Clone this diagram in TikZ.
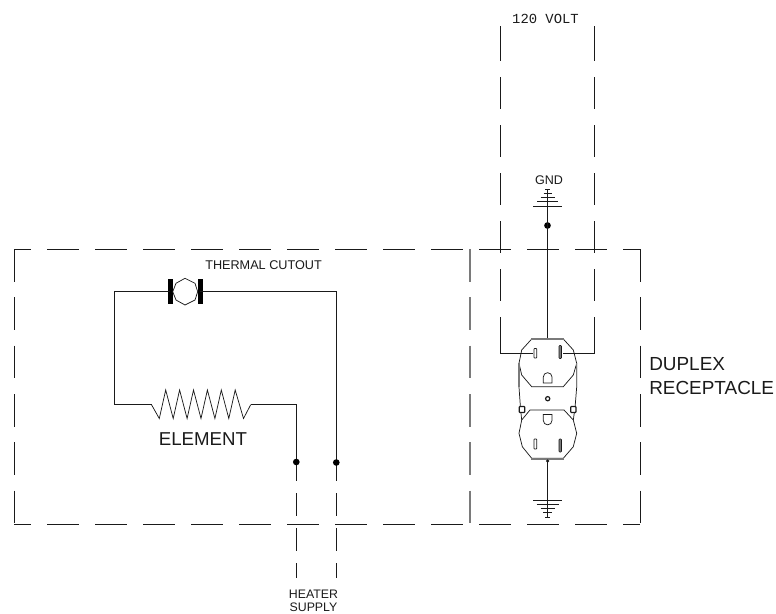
\documentclass[tikz,border=0pt]{standalone}
\usepackage{fontspec}
\setmainfont{Liberation Sans}
\newfontfamily\cadfont{Liberation Mono}
\definecolor{ink}{HTML}{1A1A1A}
\definecolor{midgrey}{HTML}{7A7A7A}
\tikzset{
  wire/.style={draw=ink,line width=0.7pt,line join=miter},
  thinwire/.style={draw=ink,line width=0.55pt,line join=miter},
  dashh/.style={draw=ink,line width=0.7pt,dash pattern=on 24pt off 12pt,dash phase=11.25pt},
  dashv/.style={draw=ink,line width=0.7pt,dash pattern=on 24.4pt off 11.85pt},
  divider/.style={draw=midgrey,line width=1.1pt,dash pattern=on 24.4pt off 11.85pt},
  feed/.style={draw=ink,line width=0.7pt,dash pattern=on 26.25pt off 12pt on 24pt off 12pt on 24pt off 12pt on 24pt off 12pt on 24pt off 12pt on 24pt off 12pt on 80pt off 12pt},
  supply/.style={draw=ink,line width=0.7pt,dash pattern=on 17.25pt off 9pt},
  junction/.style={circle,fill=black,inner sep=0pt,minimum size=5pt},
  blade/.style={fill=black,draw=none},
  thickbar/.style={draw=midgrey,line width=1.5pt},
  slotthin/.style={draw=ink,line width=0.55pt,rounded corners=0.5pt},
  slotfat/.style={draw=ink,fill=midgrey,line width=0.4pt,rounded corners=0.5pt},
  lab/.style={inner sep=0pt,text=ink}
}
\begin{document}
\begin{tikzpicture}[x=0.75pt,y=-0.75pt]
\useasboundingbox (0,0) rectangle (776,614);
% named points
\coordinate (boxTL) at (14,249);
\coordinate (boxTR) at (640,249);
\coordinate (boxBL) at (14,524);
\coordinate (boxBR) at (640,524);
\coordinate (divT) at (470,249);
\coordinate (divB) at (470,524);
\coordinate (feedLtop) at (500.5,26);
\coordinate (feedLbend) at (500.5,353);
\coordinate (feedLend) at (533,353);
\coordinate (feedRtop) at (594.5,26);
\coordinate (feedRbend) at (594.5,353);
\coordinate (feedRend) at (563,353);
\coordinate (gndTopEnd) at (547.5,189);
\coordinate (recTop) at (547.5,338);
\coordinate (recBot) at (547.5,460);
\coordinate (gndBotEnd) at (547.5,517);
\coordinate (cutL) at (170,291.5);
\coordinate (cutR) at (200,291.5);
\coordinate (loopTL) at (114,291.5);
\coordinate (loopBL) at (114,404.7);
\coordinate (resL) at (151.5,404.7);
\coordinate (resR) at (250.7,404.7);
\coordinate (h1bend) at (296.3,404.7);
\coordinate (h1solid) at (296.3,481);
\coordinate (h1dash) at (296.3,493);
\coordinate (h1end) at (296.3,578);
\coordinate (h2bend) at (336.3,291.5);
\coordinate (h2solid) at (336.3,481);
\coordinate (h2dash) at (336.3,493);
\coordinate (h2end) at (336.3,578);

% dashed enclosures
\draw[dashh] (boxTL) -- (boxTR);
\draw[dashh] (boxBL) -- (boxBR);
\draw[dashv] (boxTL) -- (boxBL);
\draw[dashv] (boxTR) -- (boxBR);
\draw[divider] (divT) -- (divB);

% 120 V feeders
\draw[feed] (feedLtop) -- (feedLbend) -- (feedLend);
\draw[feed] (feedRtop) -- (feedRbend) -- (feedRend);

% ground wires and dot
\node[junction] (dotG) at (547.5,225.5) {};
\draw[wire] (gndTopEnd) -- (recTop);
\draw[wire] (recBot) -- (gndBotEnd);

% ground symbols
\foreach \yy/\hw in {206.3/14.5,201.5/10.5,197/7,193/4,189/2.5}
  \draw[thinwire] (547.5-\hw,\yy) -- (547.5+\hw,\yy);
\foreach \yy/\hw in {500.3/14.5,504.3/11,508.3/7,512.5/4.5,517/2.5}
  \draw[thinwire] (547.5-\hw,\yy) -- (547.5+\hw,\yy);

% receptacle: faces
\draw[thinwire] (531.7,339) -- (521.7,350) -- (519,363.3) -- (521.7,375) -- (531.7,386.7) -- (563.3,386.7) -- (573.3,375) -- (576.7,363.3) -- (573.3,350) -- (563.3,339);
\draw[thickbar] (531,338.5) -- (564,338.5);
\draw[thinwire] (530,410) -- (521.7,420) -- (519,433.3) -- (522.3,446.7) -- (531.7,458.3) -- (563.3,458.3) -- (573.3,446.7) -- (576.7,433.3) -- (573.3,420) -- (564,410) -- cycle;
\draw[thickbar] (531,458.5) -- (564,458.5);
% receptacle: outer strap
\draw[thinwire] (519,363.3) -- (519,387) -- (520.5,408) -- (521.7,420);
\draw[thinwire] (576.7,363.3) -- (576.7,387) -- (575,408) -- (573.3,420);
\draw[draw=midgrey,line width=0.9pt] (519,363.3) -- (519,387);
\draw[draw=midgrey,line width=0.9pt] (576.7,363.3) -- (576.7,387);
% tabs and screw
\draw[draw=ink,fill=white,line width=0.9pt,rounded corners=0.5pt] (519.3,406.5) rectangle (524.7,412.5);
\draw[draw=ink,fill=white,line width=0.9pt,rounded corners=0.5pt] (570.7,406.5) rectangle (576,412.5);
\draw[draw=ink,line width=0.9pt] (547.7,398.7) circle (2.1);
\draw[thinwire] (547.7,461) circle (1.2);
% slots
\draw[slotthin] (534,348.5) rectangle (536.7,358);
\draw[slotfat] (559,345.5) rectangle (561.5,358.5);
\draw[slotthin] (534,439) rectangle (536.7,449);
\draw[slotfat] (559,439) rectangle (561.5,452);
% ground holes
\draw[thinwire] (543.3,383) -- (552,383) -- (552,377) arc (0:-180:4.35) -- cycle;
\draw[thinwire] (543.3,414.5) -- (552,414.5) -- (552,420.5) arc (0:180:4.35) -- cycle;

% thermal cutout
\fill[blade] (167.7,279) rectangle (172.5,304.3);
\fill[blade] (197.7,279) rectangle (202.5,304.3);
\draw[thinwire] (185,278.3) -- (195,283.3) -- (197.7,291.7) -- (195,300) -- (185,305) -- (176,300) -- (172.7,291.7) -- (176,283.3) -- cycle;

% element loop
\draw[wire] (cutL) -- (loopTL) -- (loopBL) -- (resL);
\draw[wire] (cutR) -- (h2bend) -- (h2solid);
\draw[thinwire] (resL) -- (159.3,418.5)
  -- (165.7,390) -- (173.2,418.5)
  -- (179.6,390) -- (187.1,418.5)
  -- (193.5,390) -- (201,418.5)
  -- (207.4,390) -- (214.9,418.5)
  -- (221.3,390) -- (228.8,418.5)
  -- (235.2,390) -- (243.5,418.5)
  -- (resR);
\draw[wire] (resR) -- (h1bend) -- (h1solid);
\draw[supply] (h1dash) -- (h1end);
\draw[supply] (h2dash) -- (h2end);
\node[junction] (dotA) at (296.3,462) {};
\node[junction] (dotB) at (336.3,462.5) {};

% labels
\node[lab,anchor=west,font=\fontsize{9.5pt}{11pt}\selectfont] (lblCut) at (205,265) {THERMAL CUTOUT};
\node[lab,anchor=center,font=\fontsize{14pt}{16pt}\selectfont] (lblEl) at (203,439) {ELEMENT};
\node[lab,anchor=center,font=\fontsize{9.4pt}{11pt}\selectfont] (lblGnd) at (549,180) {GND};
\node[lab,anchor=west,align=left,font=\fontsize{14.2pt}{18pt}\selectfont] (lblDup) at (649,376) {DUPLEX\\RECEPTACLE};
\node[lab,anchor=center,align=center,font=\fontsize{9.25pt}{10pt}\selectfont] (lblHeat) at (313.5,600.5) {HEATER\\SUPPLY};
\node[lab,anchor=center,font=\cadfont\fontsize{10.4pt}{12pt}\selectfont] (lblV) at (545.5,19) {120 VOLT};
\end{tikzpicture}
\end{document}
